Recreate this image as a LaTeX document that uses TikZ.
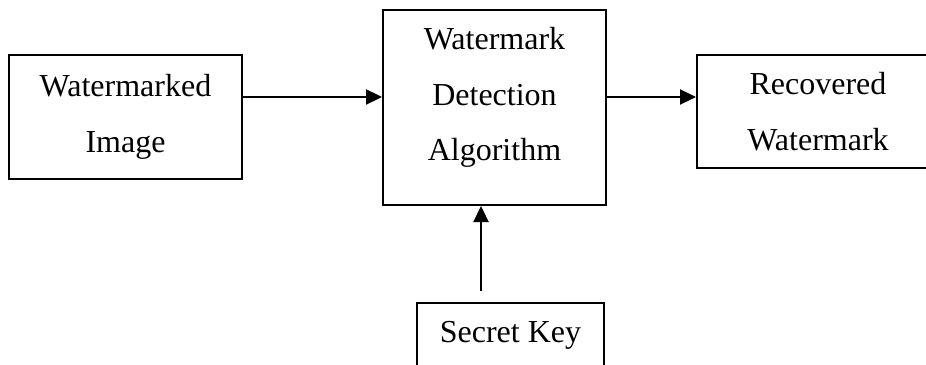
\documentclass[tikz,border=0pt]{standalone}
\usepackage{fontspec}
\setmainfont{Liberation Serif}
\usetikzlibrary{arrows.meta}
\begin{document}
\begin{tikzpicture}[x=1pt,y=-1pt,
  box/.style={draw, line width=2pt, inner sep=0pt, align=center,
    font=\fontsize{32pt}{55.5pt}\selectfont},
  arr/.style={line width=2.3pt, -{Triangle[length=16pt,width=15pt]}}]
\useasboundingbox (0,0) rectangle (926,364);
\clip (0,0) rectangle (926,364);
\node[box, minimum width=233pt, minimum height=124pt] (wm) at (125.5,117) {Watermarked\\Image};
\node[box, minimum width=223pt, minimum height=195.5pt, text depth=26pt] (det) at (494.5,107.25) {Watermark\\Detection\\Algorithm};
\node[box, minimum width=242pt, minimum height=113pt] (rec) at (818,111.5) {Recovered\\Watermark};
\node[box, minimum width=187pt, minimum height=65.4pt] (key) at (510.5,335.7) {Secret Key};
\coordinate (a1) at ([yshift=20pt]wm.east);
\coordinate (a2) at (det.east |- a1);
\coordinate (a3) at ([xshift=-29.5pt,yshift=11pt]key.north);
\draw[arr] (a1) -- (a1 -| det.west);
\draw[arr] (a2) -- (a2 -| rec.west);
\draw[arr] (a3) -- (a3 |- det.south);
\end{tikzpicture}
\end{document}
